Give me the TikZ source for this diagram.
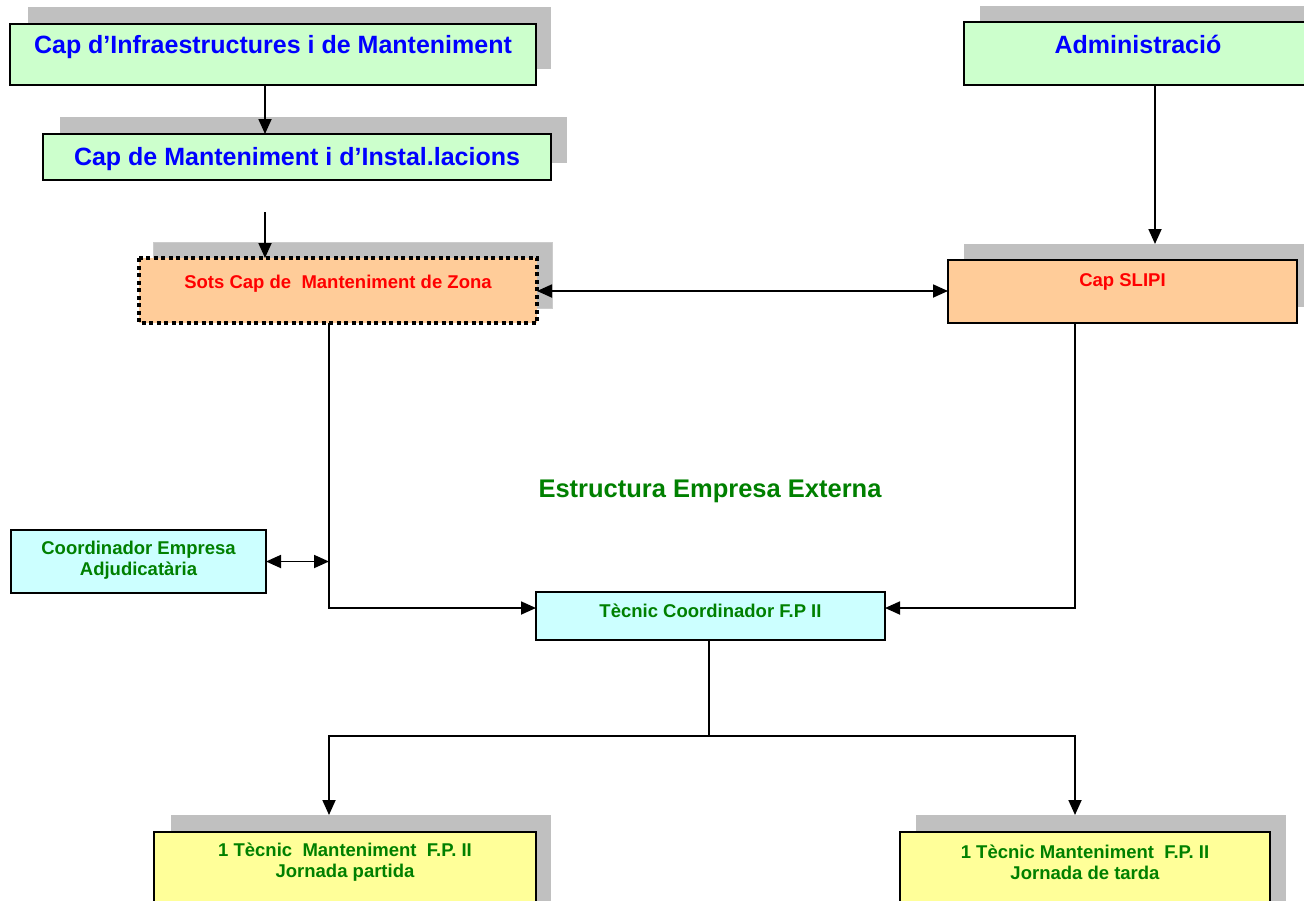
\documentclass[tikz,border=0pt]{standalone}
\usepackage{fontspec}
\setmainfont{Liberation Sans}
\usetikzlibrary{arrows.meta,calc}
\definecolor{bgreen}{HTML}{CCFFCC}
\definecolor{borange}{HTML}{FFCC99}
\definecolor{bcyan}{HTML}{CCFFFF}
\definecolor{byellow}{HTML}{FFFF99}
\definecolor{shgray}{HTML}{C0C0C0}
\definecolor{tblue}{HTML}{0000FF}
\definecolor{tred}{HTML}{FF0000}
\definecolor{tgreen}{HTML}{008000}
\begin{document}
\begin{tikzpicture}[x=1pt,y=-1pt,
  boxbase/.style={inner sep=0pt,outer sep=0pt,line width=1.6pt},
  plainbox/.style={boxbase,draw=black},
  shadowbox/.style={boxbase,fill=shgray,draw=none},
  bigtxt/.style={inner sep=0pt,font=\bfseries\fontsize{25}{30}\selectfont,text=tblue,anchor=base},
  smalltxt/.style={inner sep=0pt,font=\bfseries\fontsize{18.5}{21}\selectfont,align=center},
  arr/.style={line width=1.8pt,-{Triangle[length=15pt,width=13pt]}},
  dblarr/.style={line width=1.8pt,{Triangle[length=15pt,width=13pt]}-{Triangle[length=15pt,width=13pt]}},
  conn/.style={line width=1.8pt}
]
\useasboundingbox (0,0) rectangle (1304,900);
\clip (0,0) rectangle (1304,900);

% shadows
\node[shadowbox,minimum width=523pt,minimum height=62pt] (b1s) at (289.5,38) {};
\node[shadowbox,minimum width=507pt,minimum height=46pt] (b2s) at (313.5,140) {};
\node[shadowbox,draw=gray!40,line width=1pt,minimum width=399pt,minimum height=66pt] (b3s) at (352.5,275) {};
\node[shadowbox,minimum width=350pt,minimum height=63pt] (adms) at (1155,37.5) {};
\node[shadowbox,minimum width=349pt,minimum height=63pt] (slipis) at (1138.5,275.5) {};
\node[shadowbox,minimum width=380pt,minimum height=88pt] (bls) at (361,859) {};
\node[shadowbox,minimum width=370pt,minimum height=88pt] (brs) at (1101,859) {};

% boxes
\node[plainbox,fill=bgreen,minimum width=526pt,minimum height=61pt] (b1) at (273,54.5) {};
\node[plainbox,fill=bgreen,minimum width=508pt,minimum height=46pt] (b2) at (297,157) {};
\node[boxbase,fill=borange,minimum width=398pt,minimum height=65pt] (b3) at (338,290.5) {};
\draw[line width=4pt,dash pattern=on 4pt off 3.5pt] (b3.north west) rectangle (b3.south east);
\node[plainbox,fill=bgreen,minimum width=348pt,minimum height=63pt] (adm) at (1138,53.5) {};
\node[plainbox,fill=borange,minimum width=349pt,minimum height=63pt] (slipi) at (1122.5,291.5) {};
\node[plainbox,fill=bcyan,minimum width=255pt,minimum height=63pt] (cemp) at (138.5,561.5) {};
\node[plainbox,fill=bcyan,minimum width=349pt,minimum height=48pt] (tec) at (710.5,616) {};
\node[plainbox,fill=byellow,minimum width=382pt,minimum height=88pt] (bl) at (345,876) {};
\node[plainbox,fill=byellow,minimum width=370pt,minimum height=88pt] (br) at (1085,876) {};

% texts
\node[bigtxt] (b1t) at ($(b1.north)+(0,29)$) {Cap d’Infraestructures i de Manteniment};
\node[bigtxt] (b2t) at ($(b2.north)+(0,31)$) {Cap de Manteniment i d’Instal.lacions};
\node[bigtxt] (admt) at ($(adm.north)+(0,31)$) {Administració};
\node[smalltxt,text=tred,anchor=base] (b3t) at ($(b3.north)+(0,30)$) {Sots Cap de\ \ Manteniment de Zona};
\node[smalltxt,text=tred,anchor=base] (slipit) at ($(slipi.north)+(0,26)$) {Cap SLIPI};
\node[smalltxt,text=tgreen] (cempt) at ($(cemp.north)+(0,30)$) {Coordinador Empresa\\Adjudicatària};
\node[smalltxt,text=tgreen,anchor=base] (tect) at ($(tec.north)+(0,25)$) {Tècnic Coordinador F.P II};
\node[smalltxt,text=tgreen] (blt) at ($(bl.north)+(0,30)$) {1 Tècnic\ \ Manteniment\ \ F.P. II\\Jornada partida};
\node[smalltxt,text=tgreen] (brt) at ($(br.north)+(0,30)$) {1 Tècnic Manteniment\ \ F.P. II\\Jornada de tarda};
\node[inner sep=0pt,font=\bfseries\fontsize{25.5}{30}\selectfont,text=tgreen,anchor=base] (est) at (710,497) {Estructura Empresa Externa};

% connectors
\coordinate (x1) at ($(b1.south)+(-8,0)$);
\draw[arr] (x1) -- (x1 |- b2.north);
\coordinate (s3) at (265,212);
\draw[arr] (s3) -- (s3 |- b3.north);
\coordinate (x2) at ($(adm.south)+(17,0)$);
\draw[arr] (x2) -- (x2 |- slipis.north);
\coordinate (m1) at ($(b3.east)+(0,0.5)$);
\draw[dblarr] (m1) -- (m1 -| slipi.west);
\coordinate (x3) at ($(b3.south)+(-9,0)$);
\draw[arr] (x3) |- ($(tec.west)+(0,-8)$);
\coordinate (x4) at ($(slipi.south)+(-47.5,0)$);
\draw[arr] (x4) |- ($(tec.east)+(0,-8)$);
\draw[dblarr] (cemp.east) -- (cemp.east -| x3);
\coordinate (x5) at ($(tec.south)+(-1.5,0)$);
\coordinate (j2) at (709,736);
\draw[conn] (x5) -- (j2);
\coordinate (xl) at ($(bls.north)+(-32,0)$);
\coordinate (xr) at ($(brs.north)+(-26,0)$);
\draw[arr] (j2) -| (xl);
\draw[arr] (j2) -| (xr);
\end{tikzpicture}
\end{document}
